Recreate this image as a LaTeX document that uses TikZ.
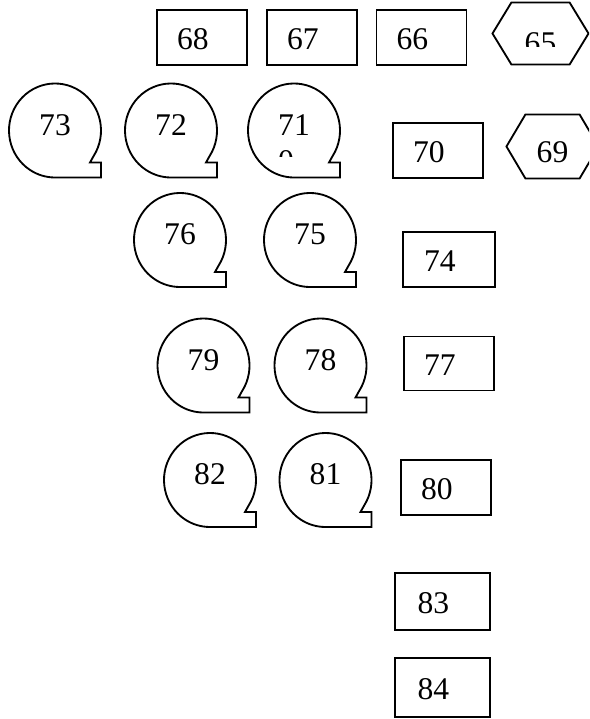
\documentclass[tikz,border=0pt]{standalone}
\usepackage{fontspec}
\setmainfont{Liberation Serif}
\tikzset{
  box/.style={draw, line width=0.7pt, text width=19pt, inner xsep=7.6pt, inner ysep=0pt,
    minimum height=20.9pt, text height=9.2pt, text depth=0pt, align=left},
  hexa/.style={inner sep=0pt, minimum width=34.6pt, minimum height=23.9pt,
    text height=11.9pt, text depth=0pt},
  bubble/.style={inner sep=0pt, text height=8.1pt, text depth=4.6pt},
  outline/.style={line width=0.7pt}
}

\begin{document}
\begin{tikzpicture}[x=0.38pt, y=0.38pt, font=\fontsize{12pt}{14pt}\selectfont]
\clip (0,0) rectangle (589,-719);
\node[box] (r68) at (202,-37.5) {68};
\node[box] (r67) at (312,-37.5) {67};
\node[box] (r66) at (421.5,-37.5) {66};
\node[box] (r70) at (438,-150.5) {70};
\node[box, minimum width=35pt] (r74) at (449,-259.5) {74};
\node[box, minimum height=20.5pt] (r77) at (449,-363.5) {77};
\node[box] (r80) at (446,-487.5) {80};
\node[box, minimum width=36.1pt, minimum height=21.7pt] (r83) at (442.5,-601.5) {83};
\node[box, minimum width=36.1pt, minimum height=22.4pt] (r84) at (442.5,-687.5) {84};
\begin{scope}
\clip (480,0) rectangle (589,-47);
\node[hexa, minimum width=36.1pt, minimum height=23.2pt, text height=14.9pt] (h65) at (540.5,-33.5) {65};
\end{scope}
\node[hexa] (h69) at (552.5,-146.5) {69};
\foreach \n in {h65,h69}
  \draw[outline] (\n.west) -- ([xshift=7.2pt]\n.north west) -- ([xshift=-7.2pt]\n.north east)
    -- (\n.east) -- ([xshift=-7.2pt]\n.south east) -- ([xshift=7.2pt]\n.south west) -- cycle;
\node[bubble] (b73) at (55,-130.5) {73};
\node[bubble] (b72) at (171,-130.5) {72};
\begin{scope}
\clip (240,-70) rectangle (350,-157);
\node[bubble] (b71) at (294,-130.5) {\begin{tabular}[t]{@{}l@{}}71\\0\end{tabular}};
\end{scope}
\node[bubble] (b76) at (180,-240) {76};
\node[bubble] (b75) at (310,-240) {75};
\node[bubble] (b79) at (203.5,-365.5) {79};
\node[bubble] (b78) at (320.5,-365.5) {78};
\node[bubble] (b82) at (210,-480) {82};
\node[bubble] (b81) at (325.5,-480) {81};
\foreach \n in {b73,b72,b71,b76,b75,b79,b78,b82,b81}
  \draw[outline] ([shift={(-33:46 and 47)}]\n.center) arc[start angle=-33, end angle=270, x radius=46, y radius=47]
    -- ++(46,0) -- ++(0,15) -- ++(-11,0) -- cycle;
\end{tikzpicture}
\end{document}
